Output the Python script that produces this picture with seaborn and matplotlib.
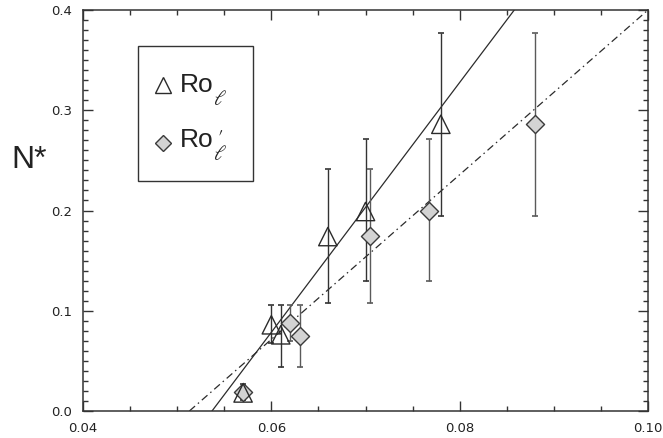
import matplotlib
matplotlib.use("Agg")
import matplotlib.pyplot as plt
from matplotlib.lines import Line2D
from matplotlib.patches import Rectangle
from matplotlib.transforms import IdentityTransform
from matplotlib.ticker import MultipleLocator, FormatStrFormatter
import seaborn as sns
import numpy as np

# ---- data ----
ro_x = [0.057, 0.060, 0.061, 0.066, 0.070, 0.078]
ro_y = [0.018, 0.086, 0.076, 0.174, 0.199, 0.286]
ro_lo = [0.011, 0.068, 0.044, 0.108, 0.130, 0.195]
ro_hi = [0.027, 0.106, 0.106, 0.241, 0.271, 0.377]

rp_x = [0.057, 0.062, 0.063, 0.0705, 0.0767, 0.088]
rp_y = [0.019, 0.088, 0.075, 0.175, 0.200, 0.286]
rp_lo = [0.012, 0.070, 0.044, 0.108, 0.130, 0.195]
rp_hi = [0.027, 0.106, 0.106, 0.241, 0.271, 0.377]

fit_ro_x = [0.0537, 0.0858]
fit_ro_y = [0.0, 0.4]
fit_rp_x = [0.0513, 0.100]
fit_rp_y = [0.0, 0.4]

x_ticks = [0.04, 0.06, 0.08, 0.10]
y_ticks = [0.0, 0.1, 0.2, 0.3, 0.4]
legend_base = ["Ro", "Ro"]

sns.set_style("ticks")
plt.rcParams["font.family"] = ["Liberation Sans", "DejaVu Sans"]
plt.rcParams["mathtext.fontset"] = "dejavusans"

dark = "#2b2b2b"
fig = plt.figure(figsize=(6.63, 4.38), dpi=100)
ax = fig.add_axes([83 / 663, 1 - 411 / 438, 565 / 663, 401 / 438])

# fit lines
sns.lineplot(x=fit_ro_x, y=fit_ro_y, ax=ax, color=dark, linewidth=0.9, zorder=2)
sns.lineplot(x=fit_rp_x, y=fit_rp_y, ax=ax, color=dark, linewidth=0.9, zorder=2)
ax.lines[-1].set_dashes([6, 3, 1.2, 3])

# error bars
ro_y_a = np.array(ro_y); rp_y_a = np.array(rp_y)
ax.errorbar(ro_x, ro_y, yerr=[ro_y_a - np.array(ro_lo), np.array(ro_hi) - ro_y_a],
            fmt="none", ecolor="#333333", elinewidth=1.0, capsize=2.2, capthick=1.2, zorder=3)
ax.errorbar(rp_x, rp_y, yerr=[rp_y_a - np.array(rp_lo), np.array(rp_hi) - rp_y_a],
            fmt="none", ecolor="#5a5a5a", elinewidth=1.0, capsize=2.2, capthick=1.2, zorder=3)

# markers
sns.scatterplot(x=rp_x, y=rp_y, ax=ax, marker="D", s=85, color="#d3d3d3",
                edgecolor="#3a3a3a", linewidth=1.0, zorder=4)
sns.scatterplot(x=ro_x, y=ro_y, ax=ax, marker="^", s=175, facecolors="none",
                edgecolors=dark, linewidth=1.0, zorder=5)

ax.set_xlim(0.04, 0.10)
ax.set_ylim(0.0, 0.4)
ax.set_xticks(x_ticks)
ax.set_yticks(y_ticks)
ax.xaxis.set_major_formatter(FormatStrFormatter("%.2f"))
ax.yaxis.set_major_formatter(FormatStrFormatter("%.1f"))
ax.xaxis.set_minor_locator(MultipleLocator(0.005))
ax.yaxis.set_minor_locator(MultipleLocator(0.01))
ax.tick_params(which="both", direction="in", top=True, right=True, color="#333333",
               width=1.0, labelsize=9.5, labelcolor="#222222", pad=8)
ax.tick_params(which="major", length=7.2)
ax.tick_params(which="minor", length=3.6)
for lab in ax.get_xticklabels() + ax.get_yticklabels():
    lab.set_family(["DejaVu Sans"])
for s in ax.spines.values():
    s.set_linewidth(1.1)
    s.set_color("#333333")
ax.set_xlabel("")
ax.set_ylabel("N*", rotation=0, fontsize=23, color="#222222", ha="center", va="center")
ax.yaxis.set_label_coords(-0.095, 0.626)

# legend frame
ax.add_patch(Rectangle((55 / 565, 230 / 401), 115 / 565, 135 / 401, transform=ax.transAxes,
                       facecolor="white", edgecolor="#333333", linewidth=1.0, zorder=6))

handles = [
    Line2D([], [], linestyle="none", marker="^", markersize=12, markerfacecolor="none",
           markeredgecolor=dark, markeredgewidth=1.0),
    Line2D([], [], linestyle="none", marker="D", markersize=8.5, markerfacecolor="#d3d3d3",
           markeredgecolor="#3a3a3a", markeredgewidth=1.0),
]
leg = ax.legend(handles, legend_base, loc="upper left",
                bbox_to_anchor=(55 / 565, 0.0, 115 / 565, 365 / 401), mode="expand",
                fontsize=19, frameon=False,
                handlelength=0.2, handleheight=1.3, handletextpad=0.54,
                labelspacing=1.0, borderpad=0.85, borderaxespad=0)
leg.set_zorder(7)
for t in leg.get_texts():
    t.set_color("#222222")

fig.canvas.draw()
# lower the legend markers a little relative to the text
for h, dy in zip(leg.legend_handles, [3.6, 5.3]):
    h.set_ydata(np.asarray(h.get_ydata()) - dy)

# subscript ell and prime after each "Ro"
fig.canvas.draw()
r = fig.canvas.get_renderer()
for i, t in enumerate(leg.get_texts()):
    bb = t.get_window_extent(r)
    base_y = bb.y0 + 6
    fig.text(bb.x1 - 1, base_y + 1, r"$\ell$", transform=IdentityTransform(),
             fontsize=15, va="top", ha="left", color="#222222", zorder=10,
             math_fontfamily="stix")
    if i == 1:
        fig.text(bb.x1 + 3, bb.y1 - 1, r"$\prime$", transform=IdentityTransform(),
                 fontsize=14, va="top", ha="left", color="#222222", zorder=10,
                 math_fontfamily="stix")

fig.savefig("out.png", dpi=100)
